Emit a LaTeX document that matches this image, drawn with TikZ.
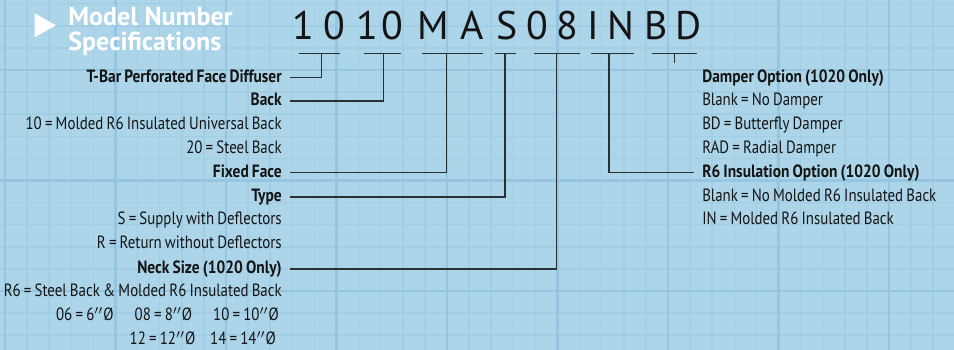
\documentclass[tikz,border=0pt]{standalone}
\usepackage{fontspec}
\setmainfont{PT Sans}[FakeStretch=0.84, WordSpace=0.8,
  BoldFeatures={FakeStretch=0.87}]
\newfontfamily\titlefont{PT Sans}
\usetikzlibrary{positioning,calc}
\definecolor{gcbg}{RGB}{172,213,233}
\definecolor{gcminor}{RGB}{161,205,229}
\definecolor{gcmajor}{RGB}{150,197,225}
\definecolor{gcline}{RGB}{40,48,52}
\definecolor{gcink}{RGB}{20,20,20}
\tikzset{
  codechar/.style={
    anchor=base, inner sep=0pt, text=gcink,
    font=\titlefont\fontsize{22.7}{24}\selectfont
  },
  titletext/.style={
    anchor=north west, inner sep=0pt, align=left, text=white,
    font=\titlefont\fontsize{14.8}{14.4}\selectfont\bfseries
  },
  specleft/.style={
    anchor=east, inner xsep=4.5pt, inner ysep=0pt,
    text height=7pt, text depth=1.8pt, text=gcink,
    font=\fontsize{10.1}{11}\selectfont
  },
  specright/.style={specleft, anchor=west},
  spechead/.style={font=\fontsize{10.1}{11}\selectfont\bfseries},
  codeline/.style={draw=gcline, line width=0.85pt},
  leadline/.style={draw=gcline, line width=0.85pt},
  minorline/.style={draw=gcminor, line width=0.9pt},
  majorline/.style={draw=gcmajor, line width=1.5pt}
}

\begin{document}
\begin{tikzpicture}[x=0.02cm, y=-0.02cm]
  \useasboundingbox (0,0) rectangle (954,350);
  \fill[gcbg] (0,0) rectangle (954,350);

  % Grid paper
  \foreach \i in {0,...,43}
    \draw[minorline] ({5+22.1*\i},0) -- ++(0,350);
  \foreach \j in {0,...,15}
    \draw[minorline] (0,{3.7+22.1*\j}) -- ++(954,0);
  \foreach \i in {0,...,8}
    \draw[majorline] ({5+110.5*\i},0) -- ++(0,350);
  \foreach \j in {-1,0,1,2}
    \draw[majorline] (0,{70+110.5*\j}) -- ++(954,0);

  % Title
  \fill[white] (34.5,13.3) -- (56,25.3) -- (34.5,37.3) -- cycle;
  \node[titletext] (title) at (68,7) {Model Number\\Specifications};

  % Model number
  \foreach \x/\c [count=\n] in {303.5/1, 334/0, 367.5/1, 392.5/0, 433/M,
      472/A, 507/S, 537/0, 567/8, 593/I, 621/N, 656/B, 688.5/D}
    \node[codechar] (c\n) at (\x,39.5) {\c};

  % Underlines
  \foreach \a/\b/\d [count=\n] in {299/340/321.7, 364/400.7/383.3,
      421.7/482.7/446.7, 495/516/505, 534/580/556.7, 591/634/609,
      651.7/696.7/674.3} {
    \draw[codeline] (\a,53.3) -- (\b,53.3);
    \coordinate (u\n) at (\d,53.3);
  }

  % Left column
  \node[specleft, spechead] (tbar) at (290,77.7) {T-Bar Perforated Face Diffuser};
  \node[specleft, spechead] (back) at (290,101) {Back};
  \node[specleft] (backten) at (290,124.8) {10 = Molded R6 Insulated Universal Back};
  \node[specleft] (backtwenty) at (290,148.7) {20 = Steel Back};
  \node[specleft, spechead] (face) at (290,172.6) {Fixed Face};
  \node[specleft, spechead] (type) at (290,197) {Type};
  \node[specleft] (supply) at (290,220.4) {S = Supply with Deflectors};
  \node[specleft] (return) at (290,244.3) {R = Return without Deflectors};
  \node[specleft, spechead] (neck) at (290,269) {Neck Size (1020 Only)};
  \node[specleft] (neckback) at (290,292.1) {R6 = Steel Back \& Molded R6 Insulated Back};
  \node[specleft] (necka) at (287,316) {06 = 6$''$Ø\hspace{12pt}08 = 8$''$Ø\hspace{12pt}10 = 10$''$Ø};
  \node[specleft] (neckb) at (284,339.9) {12 = 12$''$Ø\hspace{8.5pt}14 = 14$''$Ø};

  % Right column
  \node[specright, spechead] (damper) at (694,77.7) {Damper Option (1020 Only)};
  \node[specright] (nodamp) at (694,100.9) {Blank = No Damper};
  \node[specright] (bfly) at (694,124.8) {BD = Butterfly Damper};
  \node[specright] (radial) at (694,148.7) {RAD = Radial Damper};
  \node[specright, spechead] (insul) at (694,172.6) {R6 Insulation Option (1020 Only)};
  \node[specright] (noinsul) at (694,196.5) {Blank = No Molded R6 Insulated Back};
  \node[specright] (molded) at (694,220.4) {IN = Molded R6 Insulated Back};

  % Leaders
  \draw[leadline] (tbar.east) -| (u1);
  \draw[leadline] (back.east) -| (u2);
  \draw[leadline] (face.east) -| (u3);
  \draw[leadline] (type.east) -| (u4);
  \draw[leadline] (neck.east) -| (u5);
  \draw[leadline] (insul.west) -| (u6);
  \draw[leadline] (u7) -- ++(0,10);
\end{tikzpicture}
\end{document}
